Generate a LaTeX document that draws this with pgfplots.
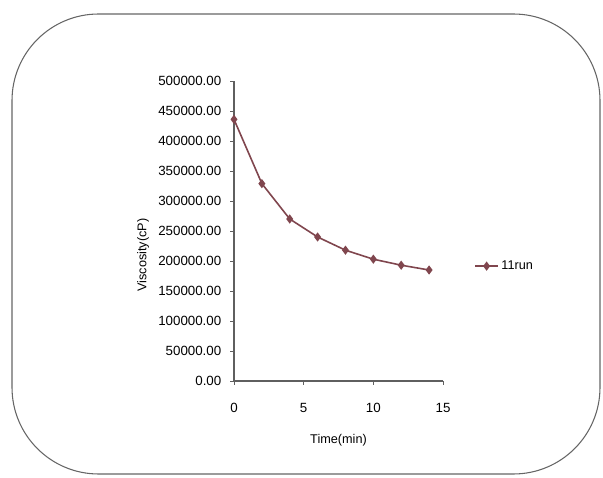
\documentclass[border=0pt]{standalone}
\usepackage{pgfplots}
\pgfplotsset{compat=1.18}
\usepackage{fontspec}
\setmainfont{Liberation Sans}
\definecolor{lineclr}{RGB}{128,70,78}
\definecolor{axisclr}{RGB}{95,95,95}
\begin{document}
\begin{tikzpicture}[x=0.75pt,y=0.75pt]
\useasboundingbox (0,0) rectangle (603,478);
\draw[gray!80!black, line width=0.8pt, rounded corners=65] (12,4) rectangle (600,464);
\begin{axis}[
    at={(234*0.75pt,97*0.75pt)}, anchor=south west,
    scale only axis,
    width=209*0.75pt, height=300*0.75pt,
    xmin=0, xmax=15, ymin=0, ymax=500000,
    xtick={0,5,10,15},
    ytick distance=50000,
    axis lines=left,
    axis line style={axisclr, line width=0.9pt, -},
    tick style={axisclr, line width=0.6pt},
    tick align=outside,
    major tick length=3pt,
    font=\fontsize{10}{12}\selectfont,
    scaled y ticks=false,
    yticklabel style={xshift=-3pt},
    y tick label style={/pgf/number format/.cd, fixed, fixed zerofill, precision=2, 1000 sep={}},
    /pgf/number format/assume math mode=true,
    xticklabel style={yshift=-10pt},
    xlabel={Time(min)},
    ylabel={Viscosity(cP)},
    label style={font=\fontsize{9.5}{11}\selectfont},
    xlabel style={at={(axis description cs:0.5,-0.197)}, anchor=center},
    ylabel style={at={(axis description cs:-0.435,0.42)}, anchor=center},
    legend style={at={(1.13,0.383)}, anchor=west, draw=none, fill=none,
      font=\fontsize{9.5}{11}\selectfont},
    legend cell align=left,
]
\addplot[lineclr, line width=1.2pt, mark=diamond*, mark size=2.5pt] coordinates {
    (0,436000) (2,329000) (4,270000) (6,240000)
    (8,218000) (10,203000) (12,193000) (14,185000)
};
\addlegendentry{11run}
\end{axis}
\end{tikzpicture}
\end{document}
